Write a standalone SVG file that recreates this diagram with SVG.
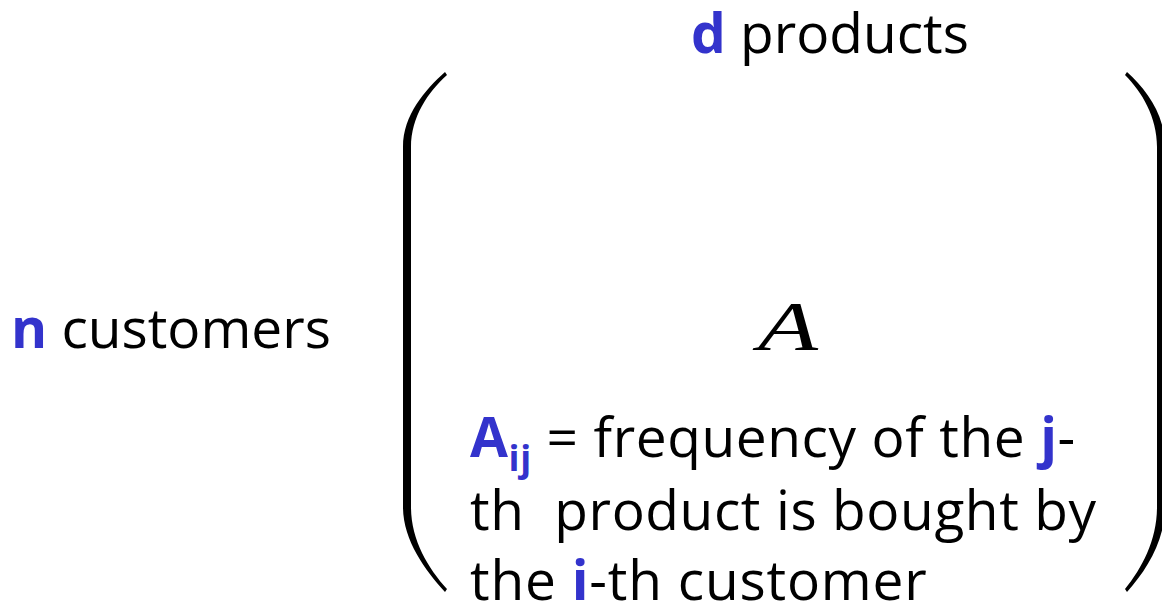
<svg xmlns="http://www.w3.org/2000/svg" width="1162" height="612" viewBox="0 0 1162 612">
<style>
.t{font-family:"Open Sans","Noto Sans",sans-serif;font-size:55px;fill:#000}
.w{letter-spacing:0.6px}
.b{font-weight:bold;fill:#3333cc}
.sub{font-size:36px}
.m{font-family:"Liberation Serif","DejaVu Serif",serif;font-style:italic;font-size:70px;fill:#000}
.p{fill:#000}
</style>
<rect width="1162" height="612" fill="#fff"/>
<g id="label-d">
<text class="t" x="691" y="53"><tspan class="b">d</tspan> products</text>
</g>
<g id="label-n">
<text class="t" x="11" y="348"><tspan class="b">n</tspan> customers</text>
</g>
<g id="matrix">
<path class="p" d="M445,72 C425,90 403,115 403,147 L403,507 C403,540 425,570 445,592 L447,589 C428,568 411,540 411,507 L411,147 C411,117 428,92 447,75 Z"/>
<path class="p" d="M1127,72 C1147,90 1165,115 1165,147 L1165,507 C1165,540 1147,570 1127,592 L1125,589 C1142,568 1157,540 1157,507 L1157,147 C1157,117 1142,92 1125,75 Z"/>
<text class="m" x="788" y="350" text-anchor="middle" textLength="60" lengthAdjust="spacingAndGlyphs">A</text>
</g>
<g id="definition">
<text class="t w" x="470" y="457"><tspan class="b">A</tspan><tspan class="b sub" dy="14">ij</tspan><tspan dy="-14"> = frequency of the </tspan><tspan class="b">j</tspan>-</text>
<text class="t w" x="470" y="530" xml:space="preserve">th  product is bought by</text>
<text class="t w" x="470" y="600" style="letter-spacing:0.8px">the <tspan class="b">i</tspan>-th customer</text>
</g>
</svg>
